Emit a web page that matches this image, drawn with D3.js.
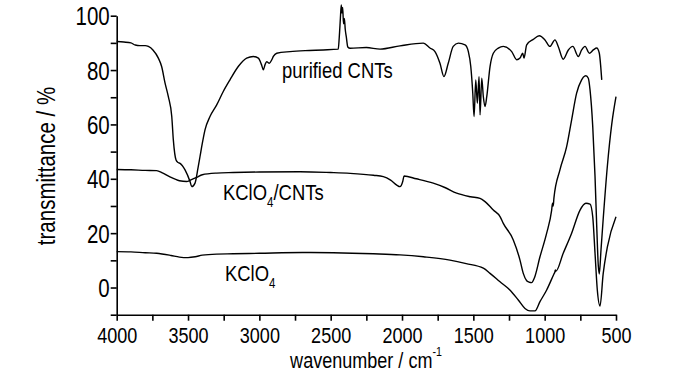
<!DOCTYPE html>
<html>
<head>
<meta charset="utf-8">
<script src="https://cdn.jsdelivr.net/npm/d3@7"></script>
<style>
body{margin:0;background:#fff;}
svg{display:block;}
text{font-family:"Liberation Sans Narrow","Arial Narrow","Liberation Sans",Arial,sans-serif;fill:#000;}
.axis path,.axis line{stroke:#000;stroke-width:1.6;}
.spec{fill:none;stroke:#000;stroke-width:1.4;stroke-linejoin:round;}
</style>
</head>
<body>
<svg id="chart"></svg>
<script>
// wavenumber (cm-1) and transmittance (%)
var cntWn=[4000,3950,3900,3870,3837,3800,3778,3746,3708,3685,3661,3638,3614,3603,3584,3570,3556,3521,3486,3474,3451,3430,3416,3400,3381,3346,3299,3253,3206,3148,3089,3042,3007,2985,2972,2960,2949,2930,2913,2902,2878,2785,2650,2552,2447,2440,2432,2426,2421,2416,2410,2404,2398,2390,2380,2364,2250,2154,2014,1851,1804,1769,1734,1706,1676,1641,1605,1558,1535,1518,1504,1495,1483,1472,1460,1453,1441,1430,1418,1406,1383,1360,1325,1290,1231,1196,1173,1154,1145,1126,1080,1038,998,963,928,905,870,834,803,764,741,717,687,659,635,617,607,600];
var cntT=[90.5,90.3,90.0,89.2,89.0,89.0,88.7,87.4,84.4,81.3,75.2,70.2,62.9,54.3,46.9,46.0,45.7,43.3,39.0,37.1,38.4,44.0,48.2,53.0,58.0,62.9,67.2,72.1,76.4,81.3,84.4,85.0,84.4,82.0,80.1,82.0,83.1,82.5,83.8,85.0,86.2,86.8,87.2,87.4,87.7,92.0,99.0,104.0,101.0,103.0,97.0,99.0,95.0,92.0,88.5,88.0,88.3,87.7,88.9,89.9,88.1,86.8,82.5,77.6,82.5,88.7,89.9,89.3,86.8,81.3,71.5,62.9,76.4,67.8,77.6,63.5,77.0,70.2,66.6,70.2,81.3,86.2,88.1,88.7,86.8,83.8,84.4,86.2,84.4,89.3,91.3,92.6,91.1,88.7,91.1,88.7,84.0,87.4,88.7,85.0,87.4,88.7,86.2,87.4,88.1,86.2,81.3,76.4];

var mixWn=[4000,3900,3800,3720,3680,3630,3560,3510,3480,3440,3400,3300,3183,3000,2715,2500,2364,2200,2131,2080,2037,2014,1995,1986,1900,1781,1700,1617,1520,1453,1418,1360,1313,1290,1220,1173,1150,1126,1110,1091,1073,1033,986,951,945,940,935,893,846,811,776,741,720,711,694,682,663,647,635,624,617,605,590,560,530,500];
var mixT=[43.4,43.3,43.1,43.0,42.2,40.8,39.3,39.0,39.6,40.5,41.5,42.1,42.3,42.5,42.6,42.3,42.0,41.3,40.8,39.5,37.7,37.1,39.0,41.0,40.0,38.4,36.8,34.7,33.4,32.8,31.6,28.5,26.1,23.6,17.5,10.1,5.2,2.5,2.0,1.8,3.4,11.3,20.0,28.5,31.0,30.0,33.0,43.3,51.8,61.7,71.5,76.4,77.8,77.9,77.0,72.7,59.2,40.8,22.4,8.0,5.0,14.0,25.0,45.0,60.0,70.2];

var kWn=[4000,3900,3800,3720,3620,3560,3500,3450,3400,3300,3183,3000,2700,2482,2200,2014,1850,1664,1550,1430,1383,1313,1244,1185,1138,1103,1068,1033,986,935,928,925,922,870,811,752,711,682,663,647,631,612,590,560,500];
var kT=[13.2,13.1,12.8,12.6,11.8,11.2,11.0,11.3,11.9,12.3,12.4,12.6,12.9,12.8,12.4,12.0,11.3,10.1,8.8,7.1,5.2,2.1,-0.9,-4.6,-7.7,-8.6,-8.6,-5.2,-0.9,5.0,5.8,6.5,6.0,12.6,20.0,28.5,31.0,30.7,26.0,12.6,-0.9,-6.8,5.0,15.0,26.0];

var xTicks=[4000,3750,3500,3250,3000,2750,2500,2250,2000,1750,1500,1250,1000,750,500];
var xLabels=[4000,3500,3000,2500,2000,1500,1000,500];
var yTicks=[-10,0,10,20,30,40,50,60,70,80,90,100];
var yLabels=[0,20,40,60,80,100];

var w=700,h=374;
var sx=0.82; // narrow face squeeze
var svg=d3.select("#chart").attr("width",w).attr("height",h);

var x=d3.scaleLinear().domain([4000,500]).range([116.7,616]);
var y=d3.scaleLinear().domain([-10,100]).range([314.7,15.7]);

var xAxis=d3.axisBottom(x)
  .tickValues(xTicks)
  .tickSize(6)
  .tickSizeOuter(0)
  .tickFormat(function(d){return xLabels.indexOf(d)>=0?d:"";});
var yAxis=d3.axisLeft(y)
  .tickValues(yTicks)
  .tickSize(6)
  .tickSizeOuter(0)
  .tickFormat(function(d){return yLabels.indexOf(d)>=0?d:"";});

var gx=svg.append("g").classed("axis",true)
  .attr("transform","translate(0,"+y(-10)+")")
  .call(xAxis);
gx.selectAll("text").attr("font-size",22).attr("y",7).attr("dy","0.95em")
  .attr("transform","scale("+sx+",1)");

var gy=svg.append("g").classed("axis",true)
  .attr("transform","translate("+x(4000)+",0)")
  .call(yAxis);
gy.selectAll("text").attr("font-size",25).attr("x",-7/sx).attr("dy","0.36em")
  .attr("transform","scale("+sx+",1)");

var line=d3.line()
  .curve(d3.curveMonotoneX)
  .x(function(d){return x(d[0]);})
  .y(function(d){return y(d[1]);});

function pairs(a,b){return a.map(function(v,i){return [v,b[i]];});}

svg.append("path").datum(pairs(cntWn,cntT)).classed("spec",true).attr("d",line);
svg.append("path").datum(pairs(mixWn,mixT)).classed("spec",true).attr("d",line);
svg.append("path").datum(pairs(kWn,kT)).classed("spec",true).attr("d",line);

function place(px,py,extra){
  return "translate("+px+","+py+")"+(extra||"")+" scale("+sx+",1)";
}

// curve labels
svg.append("text").attr("transform",place(282,78)).attr("font-size",22.5).text("purified CNTs");
var t1=svg.append("text").attr("transform",place(223,200)).attr("font-size",22.5);
t1.append("tspan").text("KClO");
t1.append("tspan").attr("font-size",14).attr("dy",7).text("4");
t1.append("tspan").attr("dy",-7).text("/CNTs");
var t2=svg.append("text").attr("transform",place(225,281)).attr("font-size",22.5);
t2.append("tspan").text("KClO");
t2.append("tspan").attr("font-size",14).attr("dy",7).text("4");

// axis titles
var xt=svg.append("text").attr("transform",place(366,368)).attr("text-anchor","middle").attr("font-size",22);
xt.append("tspan").text("wavenumber / cm");
xt.append("tspan").attr("font-size",13).attr("dy",-12).text("-1");
svg.append("text")
  .attr("transform",place(55,166," rotate(-90)"))
  .attr("text-anchor","middle")
  .attr("font-size",25)
  .text("transmittance / %");
</script>
</body>
</html>
